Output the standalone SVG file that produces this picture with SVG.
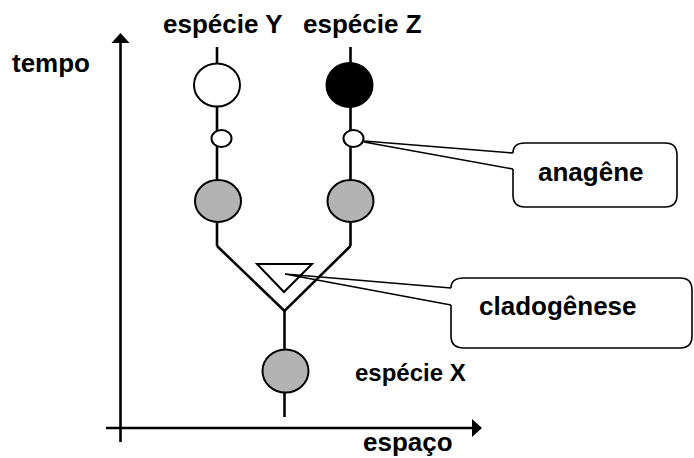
<svg xmlns="http://www.w3.org/2000/svg" width="694" height="458" viewBox="0 0 694 458">
  <style>
    .lbl { font-family: "Liberation Sans", Arial, sans-serif; font-weight: bold; font-size: 26px; fill: #000; }
    .axis { stroke: #000; stroke-width: 2.6; fill: none; }
    .branch { stroke: #000; stroke-width: 2.6; fill: none; stroke-linejoin: miter; }
    .node { stroke: #000; stroke-width: 2; }
    .gray { fill: #b3b3b3; }
    .call { fill: #fff; stroke: #000; stroke-width: 1.6; }
    .ptr { stroke: #000; stroke-width: 1.6; fill: none; }
  </style>

  <!-- axes -->
  <g id="axes">
    <line class="axis" x1="120.5" y1="442" x2="120.5" y2="40"/>
    <polygon points="120.5,33 111.5,43 129.5,43" fill="#000"/>
    <line class="axis" x1="106" y1="428" x2="474" y2="428"/>
    <polygon points="482,428 472,419 472,437" fill="#000"/>
    <text class="lbl" x="12" y="72">tempo</text>
    <text class="lbl" x="363" y="451">espaço</text>
  </g>

  <!-- lineage connectors -->
  <g id="connectors">
    <line class="branch" x1="217" y1="47" x2="217" y2="246"/>
    <line class="branch" x1="350.5" y1="47" x2="350.5" y2="246"/>
    <polyline class="branch" points="217,246 284.5,311 350.5,246"/>
    <line class="branch" x1="284.5" y1="311" x2="284.5" y2="417"/>
  </g>

  <g id="especie-Y">
    <ellipse class="node" cx="217" cy="85" rx="23" ry="21.5" fill="#fff"/>
    <text class="lbl" x="163" y="33">espécie Y</text>
  </g>
  <g id="especie-Z">
    <ellipse class="node" cx="349.5" cy="85" rx="23" ry="22" fill="#000"/>
    <text class="lbl" x="303" y="33">espécie Z</text>
  </g>

  <g id="marca-esq">
    <ellipse class="node" cx="221.5" cy="138.5" rx="10" ry="8.5" fill="#fff"/>
  </g>
  <g id="marca-dir">
    <ellipse class="node" cx="353.5" cy="138.5" rx="10" ry="8.5" fill="#fff"/>
  </g>

  <g id="ancestral-esq">
    <ellipse class="node gray" cx="218" cy="201" rx="23" ry="21"/>
  </g>
  <g id="ancestral-dir">
    <ellipse class="node gray" cx="350.5" cy="201" rx="23" ry="21"/>
  </g>

  <g id="evento">
    <polygon class="node" points="257,264 312,264 284,292" fill="none" stroke-width="2.6"/>
  </g>

  <g id="especie-X">
    <ellipse class="node gray" cx="285.5" cy="371" rx="23" ry="21.5"/>
    <text class="lbl" x="355" y="381" style="font-size:24px">espécie X</text>
  </g>

  <!-- callout: anagênese -->
  <g id="anagene">
    <path class="call" d="M513,169 L513,195 Q513,207 525,207 L665,207 Q677,207 677,195 L677,155 Q677,143 665,143 L525,143 Q513,143 513,153"/>
    <path class="ptr" d="M364,141 L513,153 M364,142 L513,169"/>
    <text class="lbl" x="538" y="181">anagêne</text>
  </g>

  <!-- callout: cladogênese -->
  <g id="cladogenese">
    <path class="call" d="M451,305 L451,336 Q451,348 464,348 L680,348 Q692,348 692,336 L692,290 Q692,278 680,278 L464,278 Q451,278 451,288"/>
    <path class="ptr" d="M285,274 L451,288 M285,274 L451,305"/>
    <text class="lbl" x="479" y="315">cladogênese</text>
  </g>
</svg>
